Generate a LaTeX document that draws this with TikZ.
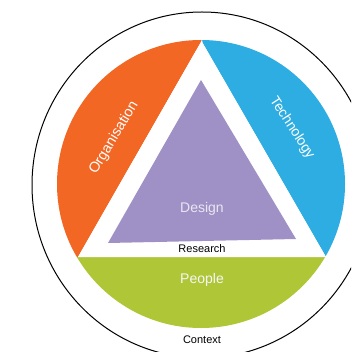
\documentclass[tikz,border=0pt]{standalone}
\usepackage{fontspec}
\setmainfont{Liberation Sans}
\definecolor{orgc}{HTML}{F26724}
\definecolor{tecc}{HTML}{2DADE1}
\definecolor{pplc}{HTML}{AFC637}
\definecolor{desc}{HTML}{9F91C6}
\definecolor{destx}{HTML}{EAE5F2}
\tikzset{
  lbl/.style={inner sep=0pt, font=\fontsize{#1}{#1}\selectfont},
  wlbl/.style={lbl=#1, text=white},
}
\begin{document}
\begin{tikzpicture}[x=1pt,y=-1pt]
\useasboundingbox (0,0) rectangle (351,352);
\begin{scope}
  \clip (0,0) rectangle (351,352);
  \draw[line width=1pt] (202,185) ellipse [x radius=170, y radius=173];
\end{scope}
\begin{scope}
  \clip (201,184) circle [radius=144];
  \fill[pplc] (0,257) rectangle (351,352);
  \fill[orgc] (201.5,41) -- (78,257) -- (0,257) -- (0,0) -- (201.5,0) -- cycle;
  \fill[tecc] (201.5,41) -- (326,257) -- (351,257) -- (351,0) -- (201.5,0) -- cycle;
  \fill[white] (201.5,41) -- (78,257) -- (326,257) -- cycle;
  \fill[white] (201.5,30) -- (201.5,45) -- (202.5,45) -- cycle;
\end{scope}
\fill[desc] (201,80) -- (108,243) -- (296,239) -- cycle;
\node[wlbl=14.4, rotate=59] (org) at (114,138) {Organisation};
\node[wlbl=14, rotate=-57] (tec) at (292,128) {Technology};
\node[lbl=14, text=destx] (des) at (202,209) {Design};
\node[lbl=11] (res) at (202,249) {Research};
\node[lbl=14, text=destx!40!white] (ppl) at (202,280) {People};
\node[lbl=11] (ctx) at (202,340) {Context};
\end{tikzpicture}
\end{document}
